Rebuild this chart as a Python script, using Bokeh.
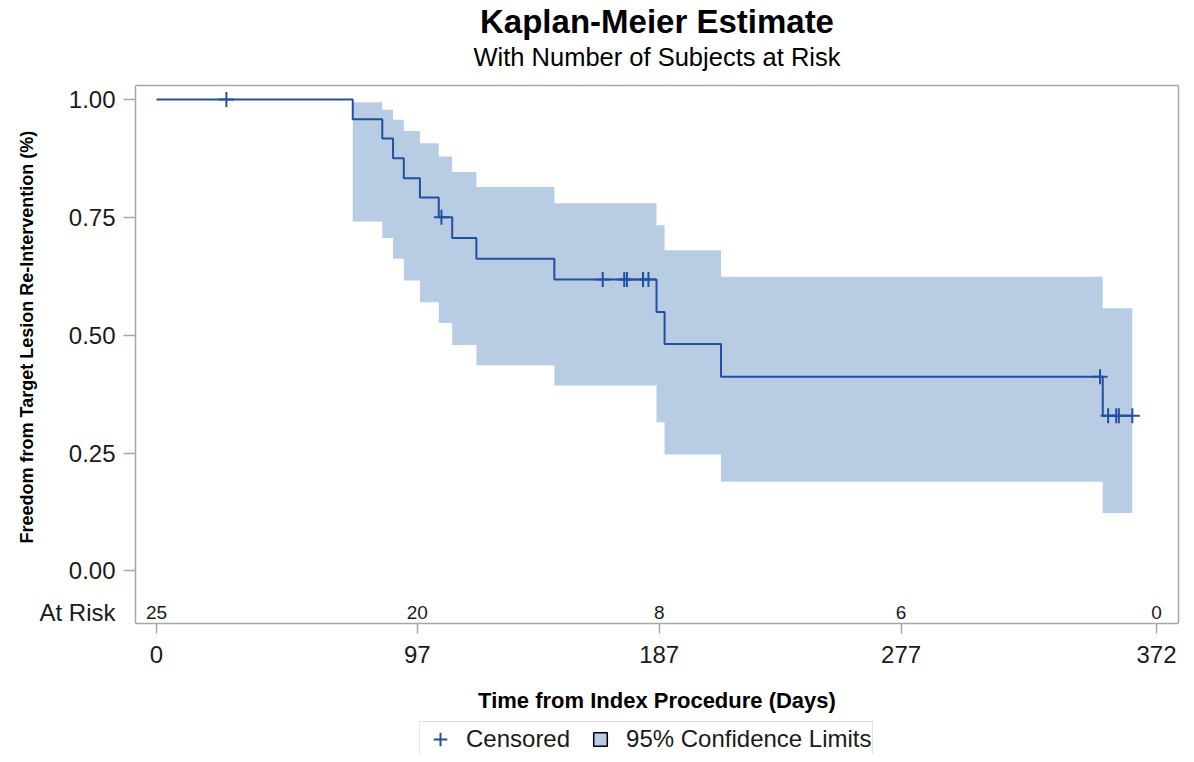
from bokeh.plotting import figure
from bokeh.models import FixedTicker, NumeralTickFormatter, Legend, LegendItem, LinearAxis, Title
from bokeh.embed import file_html
from bokeh.resources import INLINE
from bokeh.core.properties import value

FONT = "Liberation Sans"
LINE = "#22509E"
BAND = "#B8CCE4"
FRAME = "#A6A6A6"
TEXT = "#1A1A1A"

# ---- data ----
event_days = [73, 84, 88, 92, 98, 105, 110, 119, 148, 186, 189, 210, 352]
survival = [0.958, 0.917, 0.875, 0.833, 0.792, 0.750, 0.706, 0.662, 0.618, 0.549, 0.481, 0.412, 0.329]
ci_lower = [0.741, 0.706, 0.662, 0.616, 0.570, 0.526, 0.479, 0.436, 0.393, 0.315, 0.247, 0.189, 0.123]
ci_upper = [0.994, 0.978, 0.957, 0.933, 0.907, 0.879, 0.846, 0.814, 0.780, 0.733, 0.680, 0.624, 0.557]
censor_days = [26, 106, 166, 174, 175, 181, 183, 351, 354, 357, 358, 363]
censor_surv = [1.0, 0.750, 0.618, 0.618, 0.618, 0.618, 0.618, 0.412, 0.329, 0.329, 0.329, 0.329]
last_day = 363
risk_days = [0, 97, 187, 277, 372]
at_risk = [25, 20, 8, 6, 0]
x_ticks = [0, 97, 187, 277, 372]
y_ticks = [0.0, 0.25, 0.5, 0.75, 1.0]

X_RANGE = (-7.81, 380.18)
Y_RANGE = (-0.3895, 1.0295)   # frame extends to the bottom; the drawn plot box ends at BOX_BOTTOM
BOX_BOTTOM = -0.1116
RISK_ROW = -0.0878

p = figure(width=1186, height=754, x_range=X_RANGE, y_range=Y_RANGE,
           output_backend="svg", toolbar_location=None,
           min_border_left=135, min_border_right=8, min_border_top=80, min_border_bottom=0)
p.background_fill_color = "white"
p.border_fill_color = "white"
p.outline_line_color = None
p.xgrid.visible = False
p.ygrid.visible = False

# title (outermost) and subtitle (as label of a tick-less top axis whose line is the box top)
p.title.text = "Kaplan-Meier Estimate"
p.title.align = "center"
p.title.text_font = FONT
p.title.text_font_size = "33px"
p.title.text_font_style = "bold"
p.title.text_color = "black"
p.title.standoff = 0

sub_axis = LinearAxis(ticker=FixedTicker(ticks=[]), axis_label="With Number of Subjects at Risk",
                      axis_label_standoff=15, axis_label_text_font=FONT,
                      axis_label_text_font_size="25.5px", axis_label_text_font_style="normal",
                      axis_label_text_color="black", axis_line_color=FRAME, axis_line_width=1.5,
                      major_tick_line_color=None, minor_tick_line_color=None,
                      major_tick_out=0, major_tick_in=0, minor_tick_out=0, minor_tick_in=0,
                      major_label_standoff=0)
p.add_layout(sub_axis, "above")

right_axis = LinearAxis(ticker=FixedTicker(ticks=[]), bounds=(BOX_BOTTOM, Y_RANGE[1]),
                        axis_line_color=FRAME, axis_line_width=1.5,
                        major_tick_line_color=None, minor_tick_line_color=None,
                        major_tick_out=0, major_tick_in=0, minor_tick_out=0, minor_tick_in=0,
                        major_label_standoff=0)
p.add_layout(right_axis, "right")

# confidence band
band_x = event_days + [last_day]
band_lo = ci_lower + [ci_lower[-1]]
band_hi = ci_upper + [ci_upper[-1]]
band = p.varea_step(x=band_x, y1=band_lo, y2=band_hi, step_mode="after", fill_color=BAND, fill_alpha=1.0)

# KM curve
km_x = [0] + event_days + [last_day]
km_y = [1.0] + survival + [survival[-1]]
p.step(km_x, km_y, mode="after", line_color=LINE, line_width=2)

# censored marks
cens = p.scatter(censor_days, censor_surv, marker="cross", size=15, line_color=LINE, line_width=2)

# legend swatch renderer (a single NaN point: nothing drawn in the plot)
sq = p.scatter(x=[float("nan")], y=[float("nan")], marker="square", fill_color=BAND,
               line_color="#000000", line_width=1.5)

# at-risk numbers
p.text(x=risk_days, y=[RISK_ROW] * len(risk_days), text=[str(v) for v in at_risk],
       text_align="center", text_baseline="middle", text_font=value(FONT),
       text_font_size="19px", text_color=TEXT)

# axes
xax = p.below[0]
yax = p.left[0]
xax.ticker = FixedTicker(ticks=x_ticks)
yax.ticker = FixedTicker(ticks=y_ticks)
yax.formatter = NumeralTickFormatter(format="0.00")
for ax in (xax, yax):
    ax.axis_line_color = FRAME
    ax.axis_line_width = 1.5
    ax.major_tick_line_color = FRAME
    ax.major_tick_line_width = 1.5
    ax.major_tick_in = 0
    ax.minor_tick_line_color = None
    ax.major_label_text_font = FONT
    ax.major_label_text_font_size = "24px"
    ax.major_label_text_color = TEXT
    ax.axis_label_text_font = FONT
    ax.axis_label_text_font_style = "bold"
    ax.axis_label_text_color = "black"

xax.fixed_location = BOX_BOTTOM
xax.axis_label = "Time from Index Procedure (Days)"
xax.major_tick_out = 10
xax.major_label_standoff = 13
xax.axis_label_text_font_size = "22px"
xax.axis_label_standoff = 21

yax.bounds = (BOX_BOTTOM, Y_RANGE[1])
yax.major_tick_out = 12
yax.major_label_standoff = 8
# "At Risk" row label shares the 0.00 tick label (three lines: blank / 0.00 / At Risk)
yax.major_label_overrides = {0: "\n0.00\nAt Risk"}
yax.major_label_text_line_height = 1.53

ylab = Title(text="Freedom from Target Lesion Re-Intervention (%)", align="left", offset=211,
             vertical_align="bottom", standoff=0, text_font=FONT, text_font_size="18px",
             text_font_style="bold", text_color="black")
p.add_layout(ylab, "left")

legend = Legend(items=[LegendItem(label="Censored", renderers=[cens]),
                       LegendItem(label="95% Confidence Limits", renderers=[sq])],
                orientation="horizontal", location=(284, -3),
                glyph_width=40, glyph_height=34, label_standoff=6, spacing=10,
                padding=0, margin=0, border_line_color="#C8C8C8", border_line_width=1,
                background_fill_color="white", background_fill_alpha=1.0,
                label_text_font=FONT, label_text_font_size="24px", label_text_color=TEXT)
p.add_layout(legend)

open("out.html", "w").write(file_html(p, INLINE))
